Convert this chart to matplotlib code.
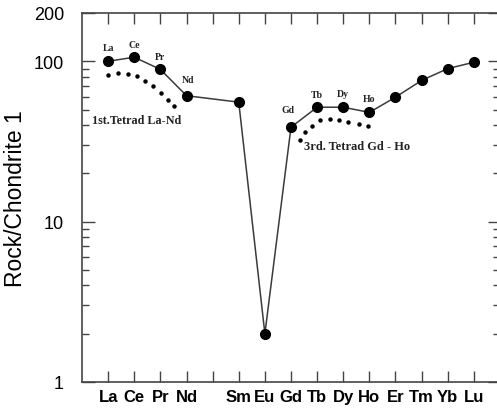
import numpy as np
import matplotlib
matplotlib.use("Agg")
import matplotlib.pyplot as plt
from matplotlib.ticker import FixedLocator, NullFormatter

# REE pattern, chondrite normalised
elements = ['La', 'Ce', 'Pr', 'Nd', 'Pm', 'Sm', 'Eu', 'Gd', 'Tb', 'Dy', 'Ho', 'Er', 'Tm', 'Yb', 'Lu']
tick_labels = ['La', 'Ce', 'Pr', 'Nd', '', 'Sm', 'Eu', 'Gd', 'Tb', 'Dy', 'Ho', 'Er', 'Tm', 'Yb', 'Lu']
sample_pos = [1, 2, 3, 4, 6, 7, 8, 9, 10, 11, 12, 13, 14, 15]
sample_val = [100, 106, 89, 61, 55.6, 2.0, 38.8, 51.7, 51.7, 48, 59.7, 76, 90, 98.6]

# point labels above the first and third tetrad
pt_names = ['La', 'Ce', 'Pr', 'Nd', 'Gd', 'Tb', 'Dy', 'Ho']
pt_pos = [1, 2, 3, 4, 8, 9, 10, 11]
pt_val = [100, 106, 89, 61, 38.8, 51.7, 51.7, 48]

# dotted tetrad curves
tet1_x = [1.0, 1.38, 1.76, 2.1, 2.4, 2.72, 3.03, 3.3, 3.53]
tet1_y = [81.8, 84, 83, 80.7, 75, 69.8, 63, 57, 52.4]
tet3_x = [8.33, 8.55, 8.80, 9.12, 9.48, 9.85, 10.2, 10.59, 10.95]
tet3_y = [32.2, 36, 39.5, 43.1, 43.9, 43.1, 42.1, 40.8, 39.5]

fig = plt.figure(figsize=(4.97, 4.10), dpi=100)
ax = fig.add_axes([82/497, 1 - 383/410, 418/497, (383 - 14)/410])

ax.plot(sample_pos, sample_val, color='#3a3a3a', lw=1.1, marker='o',
        markersize=7, markerfacecolor='black', markeredgecolor='black', zorder=3)
ax.plot(tet1_x, tet1_y, ls='none', marker='o', markersize=2.2, color='black')
ax.plot(tet3_x, tet3_y, ls='none', marker='o', markersize=2.2, color='black')

offs = {'La': (0, 10), 'Ce': (0, 9.4), 'Pr': (0, 9.4), 'Nd': (1, 11.5),
        'Gd': (-2, 13), 'Tb': (0, 9.4), 'Dy': (0, 10), 'Ho': (0, 10)}
for n, x, y in zip(pt_names, pt_pos, pt_val):
    dx, dy = offs[n]
    ax.annotate(n, (x, y), xytext=(dx, dy), textcoords='offset points',
                ha='center', va='center', fontsize=7, fontweight='bold',
                family='Liberation Serif', color='#222222')

ax.text(0.4, 43, '1st.Tetrad La-Nd', fontsize=8.7, fontweight='bold',
        family='Liberation Serif', color='#222222', va='center')
ax.text(8.5, 29.5, '3rd. Tetrad Gd - Ho', fontsize=8.9, fontweight='bold',
        family='Liberation Serif', color='#222222', va='center')

ax.set_yscale('log')
ax.set_ylim(1, 200)
ax.set_xlim(0, 16)

ax.set_xticks(range(1, 16))
ax.set_xticklabels(tick_labels, fontsize=12, fontweight='bold', family='Liberation Sans')
ax.yaxis.set_major_locator(FixedLocator([1, 10, 100, 200]))
ax.set_yticklabels(['1', '10', '100', '200'], fontsize=13, family='Liberation Sans')
minors = [m * d for d in (1, 10, 100) for m in range(2, 10) if m * d < 200]
ax.yaxis.set_minor_locator(FixedLocator(minors))
ax.yaxis.set_minor_formatter(NullFormatter())

ax.tick_params(axis='x', which='major', direction='in', top=True, bottom=True,
               length=8, width=1, color='#444444', pad=5)
ax.tick_params(axis='y', which='major', direction='in', left=True, right=True,
               length=9, width=1, color='#444444', pad=13)
ax.tick_params(axis='y', which='minor', direction='in', left=True, right=True,
               length=5, width=1, color='#444444')

for s in ax.spines.values():
    s.set_color('#444444')
    s.set_linewidth(1.2)

ax.set_ylabel('Rock/Chondrite 1', fontsize=16.5, family='Liberation Sans', labelpad=5)

fig.savefig('out.png', dpi=100)
